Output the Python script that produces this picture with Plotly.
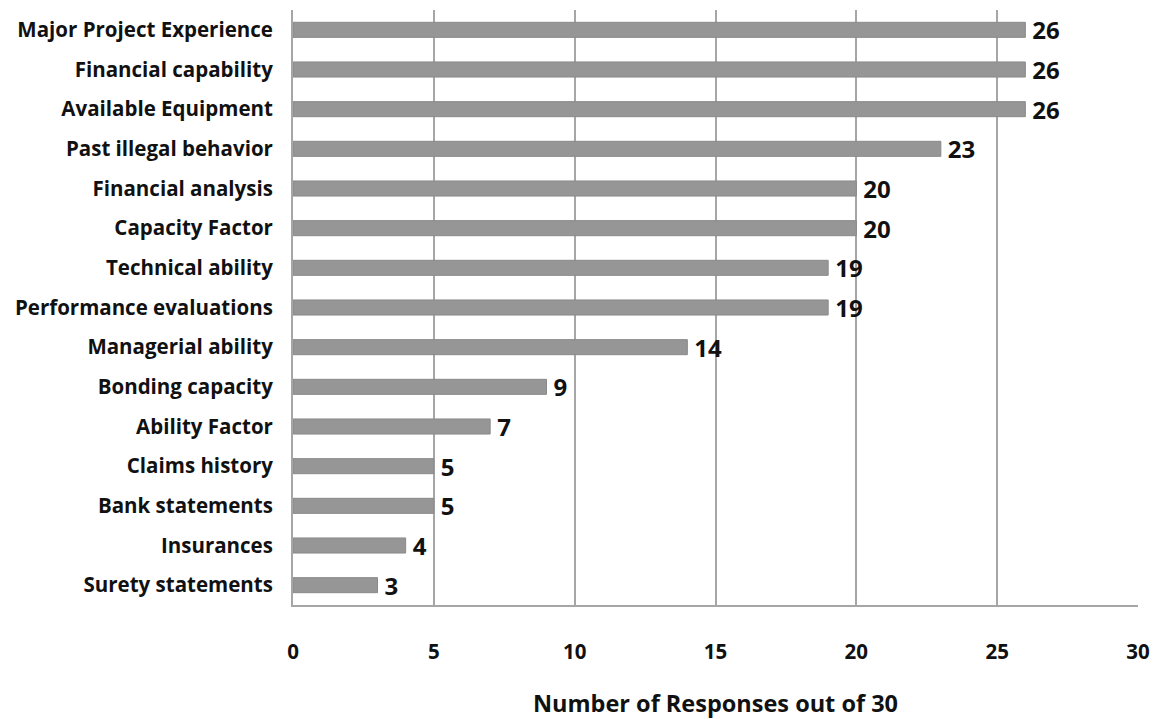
import plotly.graph_objects as go

categories = [
    "Major Project Experience", "Financial capability", "Available Equipment",
    "Past illegal behavior", "Financial analysis", "Capacity Factor",
    "Technical ability", "Performance evaluations", "Managerial ability",
    "Bonding capacity", "Ability Factor", "Claims history",
    "Bank statements", "Insurances", "Surety statements",
]
responses = [26, 26, 26, 23, 20, 20, 19, 19, 14, 9, 7, 5, 5, 4, 3]
tick_values = [0, 5, 10, 15, 20, 25, 30]

FONT = "'Open Sans', Lato, sans-serif"

fig = go.Figure(go.Bar(
    y=categories,
    x=responses,
    orientation="h",
    width=0.38,
    marker=dict(color="#969696", line=dict(color="#8a8a8a", width=1)),
    text=["\u2009" + str(v) for v in responses],
    textposition="outside",
    constraintext="none",
    cliponaxis=False,
    textfont=dict(family=FONT, size=24, color="#111111", weight="bold"),
))

fig.update_layout(
    width=1157, height=719,
    margin=dict(l=293, r=19, t=10, b=114),
    plot_bgcolor="white", paper_bgcolor="white",
    showlegend=False,
    font=dict(family=FONT, color="#111111"),
)

fig.update_yaxes(
    categoryorder="array",
    categoryarray=categories[::-1],
    automargin=False,
    showline=True, linecolor="#a6a6a6", linewidth=2,
    showgrid=False, ticks="", ticklabelstandoff=14,
    tickfont=dict(family=FONT, size=20.5, color="#111111", weight="bold"),
)

fig.update_xaxes(
    range=[0, 30],
    tickvals=tick_values,
    automargin=False,
    showgrid=True, gridcolor="#a6a6a6", gridwidth=1.5,
    showline=True, linecolor="#a6a6a6", linewidth=2, mirror=False,
    zeroline=False, ticks="", ticklabelstandoff=27,
    tickfont=dict(family=FONT, size=20.5, color="#111111", weight="bold"),
    title=dict(text="Number of Responses out of 30", standoff=34,
               font=dict(family=FONT, size=23.5, color="#111111", weight="bold")),
)

fig.write_html("out.html")
